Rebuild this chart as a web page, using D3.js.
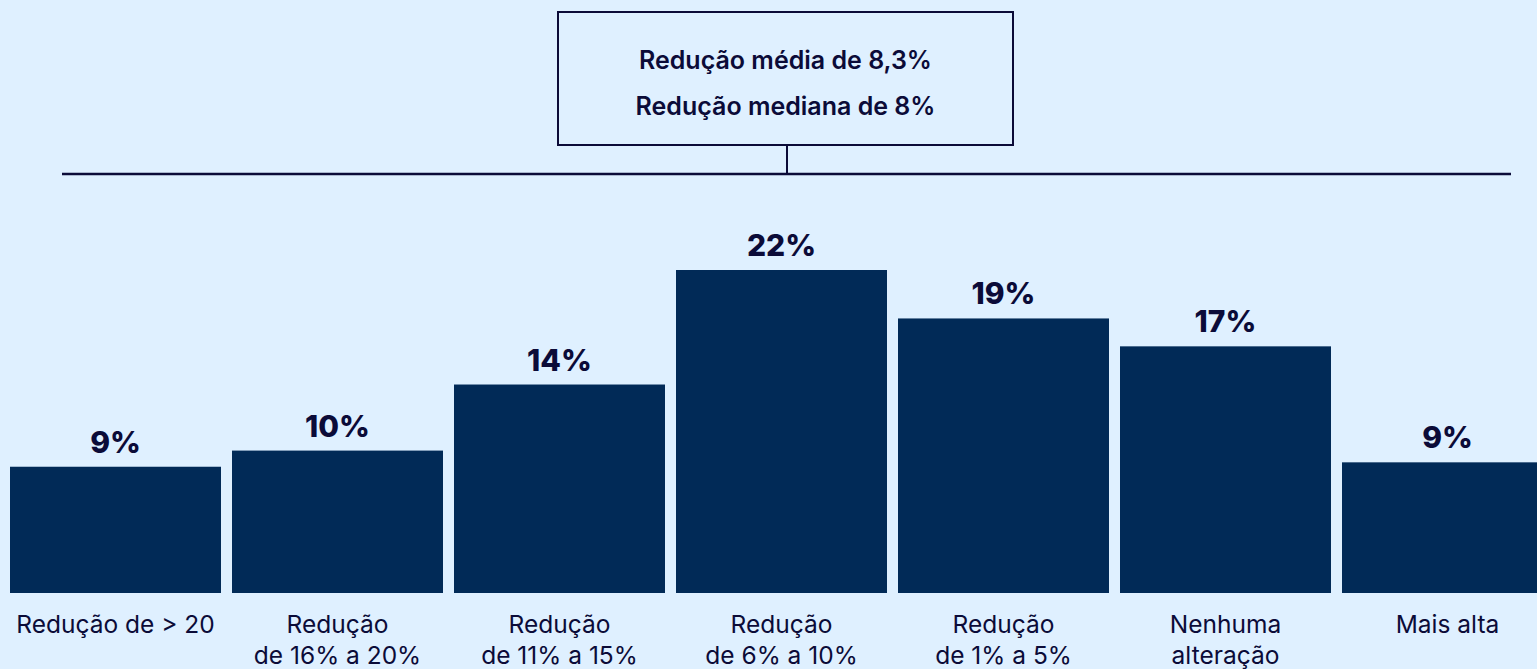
<!DOCTYPE html>
<html>
<head>
<meta charset="utf-8">
<script src="https://cdn.jsdelivr.net/npm/d3@7"></script>
<style>
  html, body { margin: 0; padding: 0; background: #dff0ff; overflow: hidden; }
  svg { display: block; }
  text { font-family: "Inter", "Noto Sans", sans-serif; fill: #0b0b38; }
</style>
</head>
<body>
<svg id="chart" width="1537" height="669"></svg>
<script>
// categories (line breaks as in the picture)
var categories = [
  ["Redução de > 20"],
  ["Redução", "de 16% a 20%"],
  ["Redução", "de 11% a 15%"],
  ["Redução", "de 6% a 10%"],
  ["Redução", "de 1% a 5%"],
  ["Nenhuma", "alteração"],
  ["Mais alta"]
];
// share of respondents, % (bar heights)
var values = [8.6, 9.7, 14.2, 22.0, 18.7, 16.8, 8.9];
var summaryLines = ["Redução média de 8,3%", "Redução mediana de 8%"];

var svg = d3.select("#chart");
var fmt = d3.format(".0f");

var x = d3.scaleBand()
  .domain(d3.range(categories.length))
  .range([10, 1553])
  .paddingInner(11 / 222)
  .paddingOuter(0);

var y = d3.scaleLinear()
  .domain([0, 22])
  .range([593, 270]);

// summary box + connector
var boxX0 = 558, boxX1 = 1013, boxY0 = 12, boxY1 = 145;
svg.append("rect")
  .attr("x", boxX0).attr("y", boxY0)
  .attr("width", boxX1 - boxX0).attr("height", boxY1 - boxY0)
  .attr("fill", "none").attr("stroke", "#0b0b38").attr("stroke-width", 2);

svg.append("line")
  .attr("x1", 787).attr("x2", 787).attr("y1", boxY1).attr("y2", 174)
  .attr("stroke", "#0b0b38").attr("stroke-width", 2);

svg.append("line")
  .attr("x1", 62).attr("x2", 1511).attr("y1", 174).attr("y2", 174)
  .attr("stroke", "#0b0b38").attr("stroke-width", 2.5);

svg.selectAll("text.summary")
  .data(summaryLines)
  .enter().append("text")
  .attr("class", "summary")
  .attr("x", (boxX0 + boxX1) / 2)
  .attr("y", function(d, i) { return 69 + i * 46; })
  .attr("text-anchor", "middle")
  .attr("font-size", 25)
  .attr("font-weight", 600)
  .text(function(d) { return d; });

// bars
svg.selectAll("rect.bar")
  .data(values)
  .enter().append("rect")
  .attr("class", "bar")
  .attr("x", function(d, i) { return x(i); })
  .attr("y", function(d) { return y(d); })
  .attr("width", x.bandwidth())
  .attr("height", function(d) { return y(0) - y(d); })
  .attr("fill", "#012a57");

// value labels
svg.selectAll("text.value")
  .data(values)
  .enter().append("text")
  .attr("class", "value")
  .attr("x", function(d, i) { return x(i) + x.bandwidth() / 2; })
  .attr("y", function(d) { return y(d) - 14; })
  .attr("text-anchor", "middle")
  .attr("font-size", 30)
  .attr("font-weight", 800)
  .text(function(d) { return fmt(d) + "%"; });

// category labels
var cat = svg.selectAll("text.cat")
  .data(categories)
  .enter().append("text")
  .attr("class", "cat")
  .attr("text-anchor", "middle")
  .attr("font-size", 24.5);

cat.selectAll("tspan")
  .data(function(d, i) { return d.map(function(t) { return {t: t, i: i}; }); })
  .enter().append("tspan")
  .attr("x", function(d) { return x(d.i) + x.bandwidth() / 2; })
  .attr("y", function(d, j) { return 633 + j * 31; })
  .text(function(d) { return d.t; });
</script>
</body>
</html>
